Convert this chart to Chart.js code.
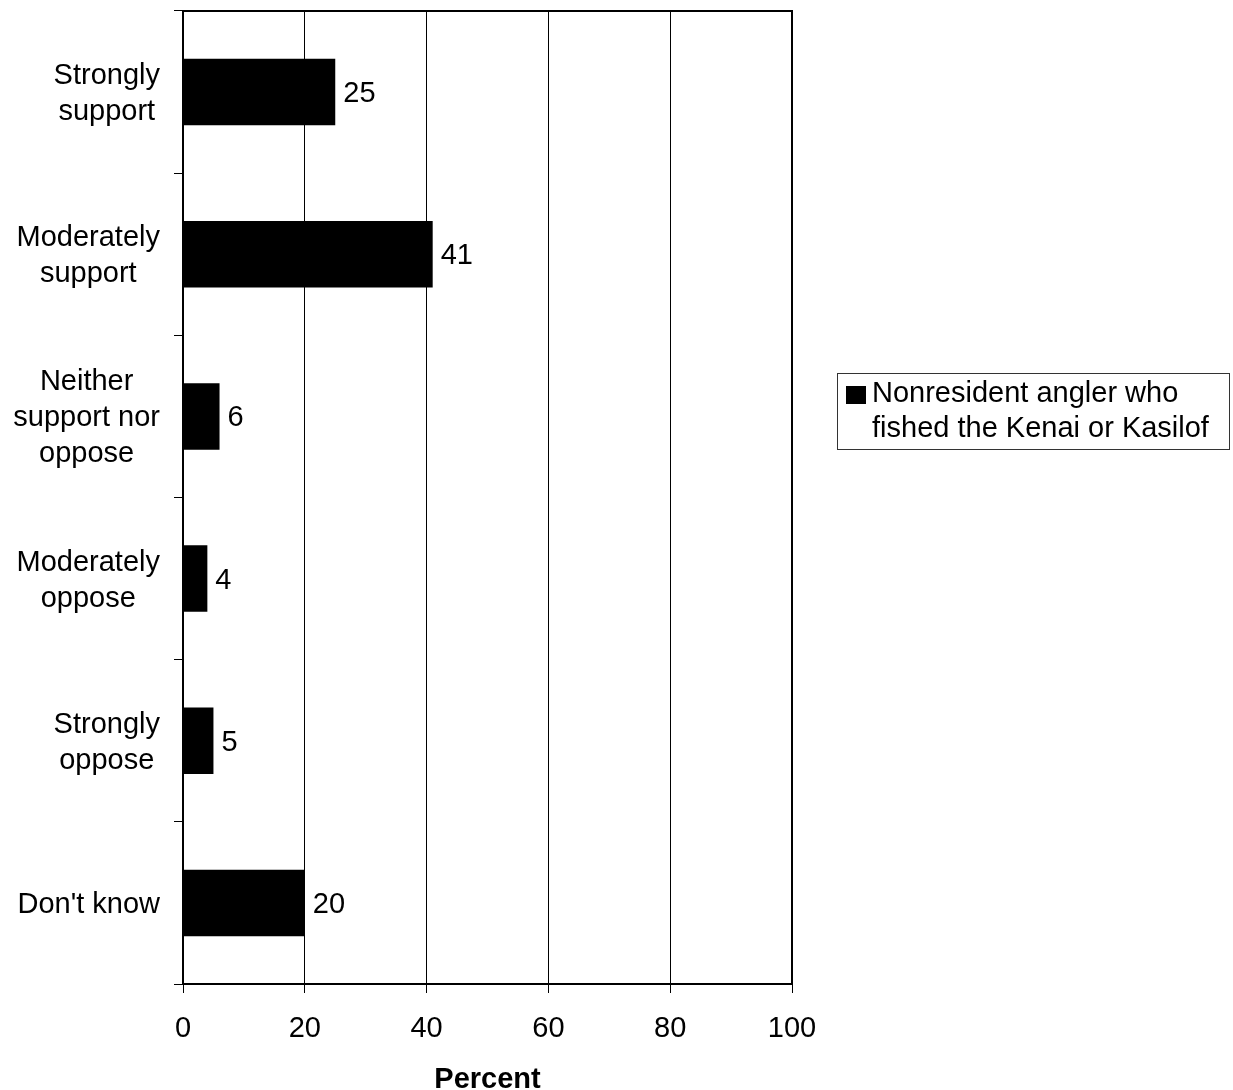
<!DOCTYPE html>
<html>
<head>
<meta charset="utf-8">
<script src="https://cdn.jsdelivr.net/npm/chart.js@4.4.1/dist/chart.umd.min.js"></script>
<style>
  body { margin: 0; background: #fff; }
</style>
</head>
<body>
<canvas id="surveyChart" width="1233" height="1090"></canvas>
<script>
const categories = [
    ['Strongly', 'support'],
    ['Moderately', 'support'],
    ['Neither', 'support nor', 'oppose'],
    ['Moderately', 'oppose'],
    ['Strongly', 'oppose'],
    ["Don't know"]
];
const percents = [25, 41, 6, 4, 5, 20];
const xTicks = [0, 20, 40, 60, 80, 100];
const seriesName = ['Nonresident angler who', 'fished the Kenai or Kasilof'];
const axisTitle = 'Percent';

const FONT = "'Liberation Sans', Arial, sans-serif";

// category labels, bar values, plot frame and the legend box
const extras = {
    id: 'extras',
    afterDraw(chart) {
        const ctx = chart.ctx;
        const area = chart.chartArea;
        const yScale = chart.scales.y;
        const meta = chart.getDatasetMeta(0);

        ctx.save();
        ctx.fillStyle = '#000';
        ctx.font = '29px ' + FONT;
        ctx.textBaseline = 'middle';

        // y labels: lines centred on each other, block right-aligned
        categories.forEach((lines, i) => {
            const cy = yScale.getPixelForTick(i) + 2;
            const widest = Math.max(...lines.map(l => ctx.measureText(l).width));
            const cx = 160 - widest / 2;
            ctx.textAlign = 'center';
            lines.forEach((line, j) => {
                ctx.fillText(line, cx, cy + (j - (lines.length - 1) / 2) * 36);
            });
        });

        // value labels next to bars
        ctx.textAlign = 'left';
        meta.data.forEach((bar, i) => {
            ctx.fillText(String(percents[i]), bar.x + 8, bar.y + 2);
        });

        // plot frame
        ctx.strokeStyle = '#000';
        ctx.lineWidth = 2;
        ctx.strokeRect(area.left, area.top, area.right - area.left, area.bottom - area.top);

        // legend
        ctx.lineWidth = 1;
        ctx.strokeStyle = '#333';
        ctx.strokeRect(837.5, 373.5, 392, 76);
        ctx.fillRect(846, 386, 20, 18);
        ctx.textBaseline = 'alphabetic';
        ctx.fillText(seriesName[0], 872, 402);
        ctx.fillText(seriesName[1], 872, 437);
        ctx.restore();
    }
};

const ctxSurvey = document.getElementById('surveyChart').getContext('2d');
new Chart(ctxSurvey, {
    type: 'bar',
    data: {
        labels: categories,
        datasets: [{
            label: seriesName.join(' '),
            data: percents,
            backgroundColor: '#000',
            borderWidth: 0,
            barPercentage: 0.41,
            categoryPercentage: 1
        }]
    },
    options: {
        indexAxis: 'y',
        responsive: false,
        animation: false,
        layout: {
            padding: { left: 0, top: 11, right: 441, bottom: 0 }
        },
        plugins: {
            legend: { display: false },
            tooltip: { enabled: false }
        },
        scales: {
            x: {
                min: 0,
                max: 100,
                afterBuildTicks: scale => {
                    scale.ticks = xTicks.map(v => ({ value: v }));
                },
                afterFit: scale => { scale.height = 106; },
                grid: {
                    color: '#000',
                    lineWidth: 1,
                    tickLength: 9
                },
                border: { display: true, color: '#000', width: 2 },
                ticks: {
                    color: '#000',
                    font: { family: FONT, size: 29 },
                    padding: 19,
                    maxRotation: 0
                },
                title: {
                    display: true,
                    text: axisTitle,
                    color: '#000',
                    font: { family: FONT, size: 29, weight: 'bold', lineHeight: 0.69 },
                    padding: 0
                }
            },
            y: {
                afterFit: scale => { scale.width = 183; },
                grid: {
                    offset: true,
                    drawOnChartArea: false,
                    color: '#000',
                    tickLength: 9
                },
                border: { display: true, color: '#000', width: 2 },
                ticks: { display: false }
            }
        }
    },
    plugins: [extras]
});
</script>
</body>
</html>
